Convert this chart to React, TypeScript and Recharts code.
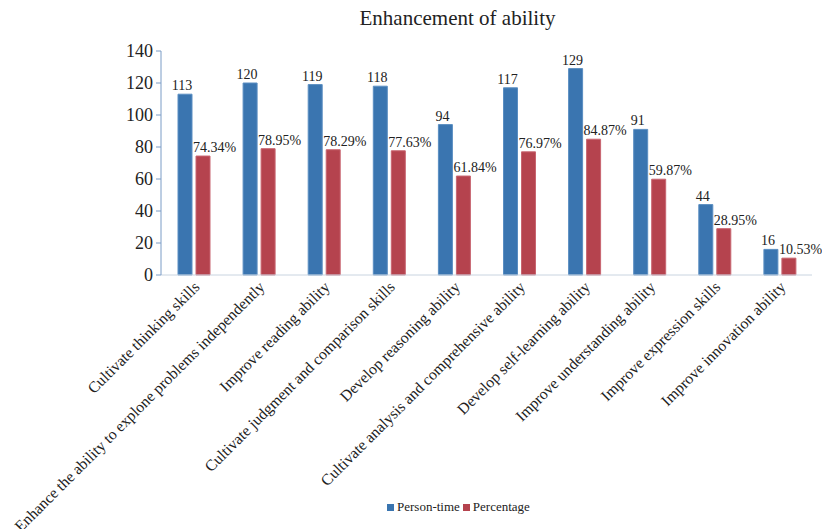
import React from 'react';
import { BarChart, Bar, XAxis, YAxis, LabelList } from 'recharts';

const categories = [
  'Cultivate thinking skills',
  'Enhance the ability to explone problems independently',
  'Improve reading ability',
  'Cultivate judgment and comparison skills',
  'Develop reasoning ability',
  'Cultivate analysis and comprehensive ability',
  'Develop self-learning ability',
  'Improve understanding ability',
  'Improve expression skills',
  'Improve innovation ability',
];
const personTime = [113, 120, 119, 118, 94, 117, 129, 91, 44, 16];
const percentage = [74.34, 78.95, 78.29, 77.63, 61.84, 76.97, 84.87, 59.87, 28.95, 10.53];
const yTicks = [0, 20, 40, 60, 80, 100, 120, 140];

const data = categories.map((c, i) => ({ name: c, person: personTime[i], pct: percentage[i] }));

const FONT = '"Liberation Serif", "Times New Roman", serif';
const BLUE = '#3a75b0';
const RED = '#b5434e';

const XTick = (props: any) => {
  const { x, y, payload } = props;
  return (
    <g transform={`translate(${x + 7},${y + 5})`}>
      <text transform="rotate(-45)" textAnchor="end" fontFamily={FONT} fontSize={15.7} fill="#222" dy={0}>
        {payload.value}
      </text>
    </g>
  );
};

const BlueLabel = (props: any) => {
  const { x, y, width, value } = props;
  return (
    <text x={x + width / 2 - 3} y={y - 4} textAnchor="middle" fontFamily={FONT} fontSize={14} fill="#222">
      {value}
    </text>
  );
};

const RedLabel = (props: any) => {
  const { x, y, value } = props;
  return (
    <text x={x - 3} y={y - 4} textAnchor="start" fontFamily={FONT} fontSize={14} fill="#222">
      {value.toFixed(2)}%
    </text>
  );
};

export default function App() {
  return (
    <div style={{ position: 'absolute', left: 0, top: 0, width: 822, height: 529, background: '#fff' }}>
      <div
        style={{
          position: 'absolute',
          left: 0,
          width: 915,
          top: 6,
          textAlign: 'center',
          fontFamily: FONT,
          fontSize: 21,
          color: '#222',
        }}
      >
        Enhancement of ability
      </div>
      <BarChart
        width={822}
        height={529}
        data={data}
        margin={{ top: 51, right: 10, bottom: 0, left: 0 }}
        barCategoryGap="25%"
        barGap={4}
      >
        <XAxis
          dataKey="name"
          interval={0}
          tick={<XTick />}
          tickLine={false}
          axisLine={{ stroke: '#c9d4e0', strokeWidth: 1 }}
          height={254}
        />
        <YAxis
          domain={[0, 140]}
          ticks={yTicks}
          interval={0}
          width={161}
          tick={{ fontFamily: FONT, fontSize: 18, fill: '#222' }}
          tickLine={{ stroke: '#7a9cc6' }}
          tickSize={5}
          tickMargin={3}
          axisLine={{ stroke: '#7a9cc6', strokeWidth: 1 }}
        />
        <Bar dataKey="person" fill={BLUE} stroke="#5a8ec2" strokeWidth={1} barSize={14} isAnimationActive={false}>
          <LabelList dataKey="person" content={<BlueLabel />} />
        </Bar>
        <Bar dataKey="pct" fill={RED} stroke="#c86570" strokeWidth={1} barSize={14} isAnimationActive={false}>
          <LabelList dataKey="pct" content={<RedLabel />} />
        </Bar>
      </BarChart>
      <div
        style={{
          position: 'absolute',
          left: 387,
          top: 499,
          display: 'flex',
          alignItems: 'center',
          fontFamily: FONT,
          fontSize: 13,
          color: '#222',
        }}
      >
        <span style={{ display: 'inline-block', width: 7, height: 7, background: BLUE, marginRight: 3 }} />
        <span style={{ marginRight: 3 }}>Person-time</span>
        <span style={{ display: 'inline-block', width: 7, height: 7, background: RED, marginRight: 3 }} />
        <span>Percentage</span>
      </div>
    </div>
  );
}
